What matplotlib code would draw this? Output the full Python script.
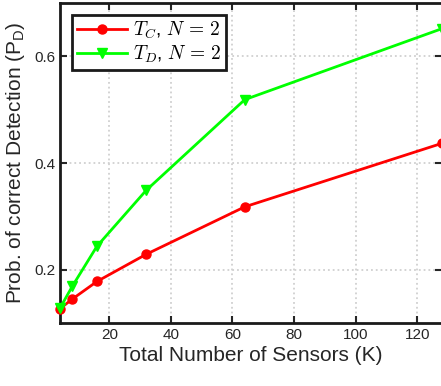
import matplotlib
matplotlib.use("Agg")
import matplotlib.pyplot as plt

# data
sensors = [4, 8, 16, 32, 64, 128]
pd_tc = [0.127, 0.145, 0.178, 0.229, 0.318, 0.437]
pd_td = [0.128, 0.169, 0.244, 0.349, 0.519, 0.652]
xticks = [20, 40, 60, 80, 100, 120]
yticks = [0.2, 0.4, 0.6]

plt.rcParams["font.family"] = ["Liberation Sans", "DejaVu Sans"]
plt.rcParams["mathtext.fontset"] = "cm"
plt.rcParams["mathtext.rm"] = "Liberation Sans"

fig = plt.figure(figsize=(4.41, 3.86), dpi=100)
ax = fig.add_axes([0.136, 0.163, 0.866, 0.829])

ax.plot(sensors, pd_tc, color="#ff0000", lw=2, marker="o", ms=6.5,
        label=r"$T_C$, $N\,=\,2$", clip_on=False, zorder=3)
ax.plot(sensors, pd_td, color="#00ff00", lw=2, marker="v", ms=7.5,
        label=r"$T_D$, $N\,=\,2$", clip_on=False, zorder=3)

ax.set_xlim(4, 128)
ax.set_ylim(0.1, 0.7)
ax.set_xticks(xticks)
ax.set_yticks(yticks)
ax.tick_params(direction="in", length=5, width=1.5, top=True, right=True,
               labelsize=11, colors="#262626")
ax.grid(True, ls=":", lw=1.3, color="#d0d0d0")
for sp in ax.spines.values():
    sp.set_linewidth(2)
    sp.set_color("#1a1a1a")

ax.set_xlabel("Total Number of Sensors (K)", fontsize=15, color="#262626",
              labelpad=3)
ax.set_ylabel("Prob. of correct Detection (P$_{\\mathrm{D}}$)", fontsize=15,
              color="#262626", labelpad=5, math_fontfamily="custom")

leg = ax.legend(loc="upper left", prop={"size": 14, "math_fontfamily": "cm"},
                fancybox=False, framealpha=1, edgecolor="#1a1a1a",
                borderpad=0.25, handlelength=2.6, handletextpad=0.3,
                labelspacing=0.15, borderaxespad=0.6)
leg.get_frame().set_linewidth(2)

fig.savefig("out.png", dpi=100)
